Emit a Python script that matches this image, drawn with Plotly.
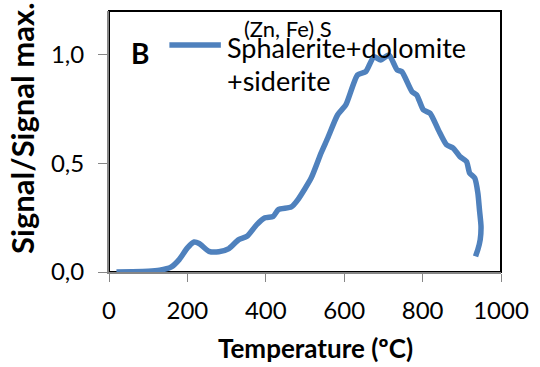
import plotly.graph_objects as go

# Data
temperature = [19, 60, 100, 129, 158, 179, 200, 217, 230, 255, 280, 306, 331, 352, 377, 398, 419, 432,
               465, 482, 516, 541, 558, 583, 604, 634, 655, 676, 693, 714, 735, 747, 773, 785, 802,
               819, 840, 861, 878, 895, 912, 920, 933, 941, 945, 949, 947, 941, 935]
signal = [0.0, 0.001, 0.003, 0.008, 0.022, 0.057, 0.111, 0.138, 0.131, 0.095, 0.093, 0.108, 0.149, 0.164,
          0.218, 0.249, 0.256, 0.287, 0.299, 0.333, 0.433, 0.547, 0.616, 0.722, 0.768, 0.906, 0.921,
          0.99, 0.975, 0.998, 0.929, 0.921, 0.829, 0.814, 0.745, 0.730, 0.654, 0.585, 0.570, 0.531,
          0.508, 0.455, 0.432, 0.363, 0.287, 0.21, 0.149, 0.103, 0.072]
series_name_lines = ["Sphalerite+dolomite", "+siderite"]
x_ticks = [0, 200, 400, 600, 800, 1000]
y_ticks = [0.0, 0.5, 1.0]
y_tick_labels = ["0,0", "0,5", "1,0"]

FONT = "Lato"
W, H = 540, 367
L, R, T, B = 109, 35, 11, 95
PW, PH = W - L - R, H - T - B


def px(x):
    return (x - L) / PW


def py(y):
    return (H - B - y) / PH


LINE_COLOR = "#4F81BD"
fig = go.Figure()
fig.add_trace(go.Scatter(
    x=temperature, y=signal, mode="lines", name="".join(series_name_lines), showlegend=False,
    line=dict(color=LINE_COLOR, width=5.5, shape="spline", smoothing=0.6),
))

fig.update_layout(
    width=W, height=H,
    margin=dict(l=L, r=R, t=T, b=B),
    paper_bgcolor="white", plot_bgcolor="white",
    font=dict(family=FONT, color="black"),
    showlegend=False,
    xaxis=dict(range=[0, 1000], tickvals=x_ticks, ticks="outside", ticklen=8, tickcolor="#868686",
               showline=True, linecolor="#868686", linewidth=2, showgrid=False, zeroline=False,
               tickfont=dict(size=24, family=FONT), ticklabelstandoff=8),
    yaxis=dict(range=[0, 1.2], tickvals=y_ticks, ticktext=y_tick_labels, ticks="outside", ticklen=9,
               tickcolor="#868686", showline=True, linecolor="#868686", linewidth=2, showgrid=False,
               zeroline=False, tickfont=dict(size=24, family=FONT), ticklabelstandoff=9),
    shapes=[
        dict(type="rect", xref="paper", yref="paper", x0=0, x1=1, y0=0, y1=1,
             line=dict(color="black", width=2), layer="below"),
        # legend sample line
        dict(type="line", xref="paper", yref="paper", x0=px(170), x1=px(222), y0=py(45), y1=py(45),
             line=dict(color=LINE_COLOR, width=5.5), layer="above"),
    ],
    annotations=[
        dict(text=series_name_lines[0], xref="paper", yref="paper", x=px(226), y=py(47),
             showarrow=False, font=dict(size=27, family=FONT), xanchor="left", yanchor="middle"),
        dict(text=series_name_lines[1], xref="paper", yref="paper", x=px(226), y=py(80),
             showarrow=False, font=dict(size=27, family=FONT), xanchor="left", yanchor="middle"),
        dict(text="(Zn, Fe) S", xref="paper", yref="paper", x=px(290), y=py(28),
             showarrow=False, font=dict(size=22, family=FONT), xanchor="center", yanchor="middle"),
        dict(text="<b>B</b>", xref="paper", yref="paper", x=px(140), y=py(53),
             showarrow=False, font=dict(size=28, family=FONT), xanchor="center", yanchor="middle"),
        dict(text="<b>Temperature (ºC)</b>", xref="paper", yref="paper", x=px(318), y=py(348),
             showarrow=False, font=dict(size=26, family=FONT), xanchor="center", yanchor="middle"),
        dict(text="<b>Signal/Signal max.</b>", xref="paper", yref="paper", x=px(21),
             y=py(128), textangle=-90,
             showarrow=False, font=dict(size=31, family=FONT), xanchor="center", yanchor="middle"),
    ],
)

fig.write_html("out.html")
